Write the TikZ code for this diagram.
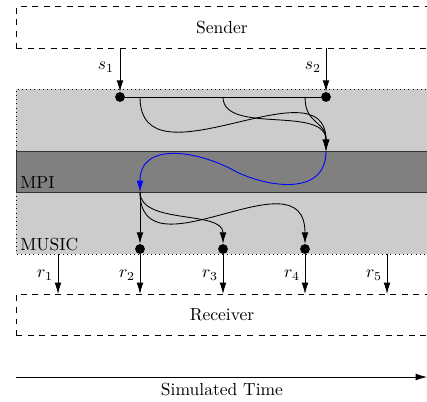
\documentclass[tikz,border=0pt]{standalone}
\usetikzlibrary{arrows.meta}
\begin{document}
\begin{tikzpicture}[x=0.5714pt,y=-0.5714pt,
  dot/.style={circle,fill=black,inner sep=0pt,minimum size=5.6pt},
  arr/.style={-{Latex[length=6.5pt,width=3.9pt]},line width=0.5pt},
  boxstyle/.style={draw,dash pattern=on 3.4pt off 3.2pt,line width=0.4pt,minimum width=235.4pt,minimum height=23.6pt,inner sep=0pt},
  band/.style={fill=black!20},
  mpiband/.style={fill=black!50,draw=black!80,line width=0.5pt}]
\useasboundingbox (0,0) rectangle (427,401);
\clip (0,0) rectangle (427,401);
% bands
\fill[band] (16,89) rectangle (430,254);
\draw[dotted,line width=0.4pt] (430,89) -- (16,89) -- (16,254) -- (430,254);
\draw[mpiband] (16,151) rectangle (430,192);
\node[anchor=base west,inner sep=0pt] (mpi) at (20,189) {MPI};
\node[anchor=base west,inner sep=0pt] (music) at (20,250) {MUSIC};
% boxes
\node[boxstyle] (sender) at (222,27.5) {Sender};
\node[boxstyle] (receiver) at (222,315) {Receiver};
% dots
\node[dot] (s1d) at (120,97) {};
\node[dot] (s2d) at (326,97) {};
\node[dot] (r2d) at (140,249) {};
\node[dot] (r3d) at (223,249) {};
\node[dot] (r4d) at (305,249) {};
\coordinate (b1) at (140,97);
\coordinate (b2) at (223,97);
\coordinate (b3) at (305,97);
\coordinate (m1) at (326,151);
\coordinate (m2) at (140,192);
\coordinate (g1) at (58,254);
\coordinate (g5) at (387,254);
% sender arrows
\draw[arr] (s1d |- sender.south) -- (s1d);
\draw[arr] (s2d |- sender.south) -- (s2d);
\node (ls1) at (106,67) {$s_1$};
\node (ls2) at (313,67) {$s_2$};
\draw[line width=0.5pt] (s1d) -- (s2d);
% top curves
\draw[arr] (b1) .. controls (140,190) and (326,60) .. (m1);
\draw[arr] (b2) .. controls (223,135) and (326,105) .. (m1);
\draw[arr] (b3) .. controls (305,125) and (326,120) .. (m1);
% blue
\draw[arr,blue] (m1) .. controls (326,200) and (260,185) .. (233,170) .. controls (200,152) and (140,140) .. (m2);
% bottom curves
\draw[arr] (m2) -- (r2d);
\draw[arr] (m2) .. controls (140,225) and (223,210) .. (r3d);
\draw[arr] (m2) .. controls (140,280) and (305,150) .. (r4d);
% receiver arrows
\draw[arr] (g1) -- (g1 |- receiver.north);
\draw[arr] (r2d) -- (r2d |- receiver.north);
\draw[arr] (r3d) -- (r3d |- receiver.north);
\draw[arr] (r4d) -- (r4d |- receiver.north);
\draw[arr] (g5) -- (g5 |- receiver.north);
\node (lr1) at (45,275) {$r_1$};
\node (lr2) at (127,275) {$r_2$};
\node (lr3) at (210,275) {$r_3$};
\node (lr4) at (292,275) {$r_4$};
\node (lr5) at (374,275) {$r_5$};
% time
\coordinate (t0) at (16,377);
\coordinate (t1) at (427,377);
\draw[arr] (t0) -- (t1);
\node (time) at (222,390) {Simulated Time};
\end{tikzpicture}
\end{document}
